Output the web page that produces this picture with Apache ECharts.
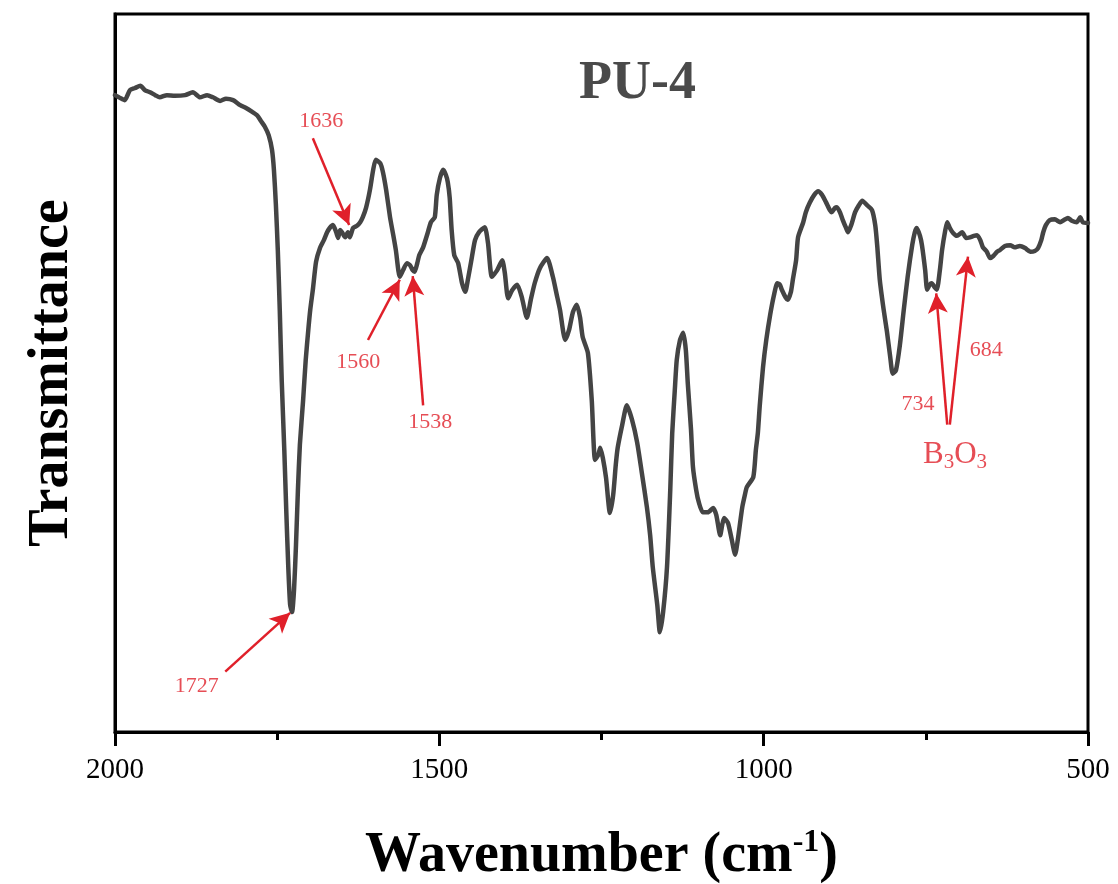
<!DOCTYPE html>
<html>
<head>
<meta charset="utf-8">
<script src="https://cdn.jsdelivr.net/npm/echarts@6/dist/echarts.min.js"></script>
<style>
html,body{margin:0;padding:0;background:#fff;}
#chart{width:1118px;height:884px;}
</style>
</head>
<body>
<div id="chart"></div>
<script>
// ---- data (wavenumber in cm-1, transmittance in arbitrary %) ----
const wavenumber = [
2000,1992,1985,1977,1969,1961,1954,1946,1938,1931,1920,1908,1892,1880,1869,1858,1849,1838,1829,1818,
1807,1798,1789,1781,1775,1769,1763,1758,1755,1752,1749,1746,1743,1739,1736,1733,1730,1727,1724,1721,
1718,1715,1710,1706,1702,1699,1695,1690,1684,1678,1673,1669,1664,1659,1656,1653,1650,1645,1641,1638,
1633,1627,1622,1618,1613,1607,1602,1598,1591,1587,1582,1576,1571,1567,1561,1556,1550,1545,1541,1538,
1534,1531,1525,1518,1513,1507,1504,1499,1494,1490,1487,1484,1481,1477,1471,1465,1460,1456,1451,1445,
1439,1430,1425,1419,1411,1403,1399,1394,1388,1380,1373,1365,1359,1353,1345,1334,1325,1319,1314,1306,
1300,1294,1288,1283,1279,1271,1265,1260,1255,1252,1248,1243,1237,1232,1228,1225,1218,1211,1203,1195,
1188,1180,1175,1171,1164,1160,1155,1149,1144,1141,1137,1134,1129,1124,1120,1117,1112,1109,1104,1100,
1094,1086,1078,1073,1067,1064,1061,1055,1049,1044,1040,1033,1029,1026,1016,1012,1009,1006,1001,996,
990,984,979,975,972,966,963,958,955,950,947,939,935,929,922,916,910,904,898,895,
890,887,882,878,873,870,865,859,853,848,841,833,828,825,821,815,810,805,801,796,
790,784,778,771,767,764,759,756,751,748,744,741,736,733,728,725,720,717,713,708,
702,694,688,682,676,671,666,662,656,651,646,640,636,628,620,613,605,597,589,582,
577,572,569,565,559,551,543,537,531,525,517,512,508,500
];
const transmittance = [
88.7,88.3,88.0,89.4,89.7,90.0,89.4,89.1,88.7,88.4,88.7,88.6,88.7,89.1,88.4,88.7,88.4,87.9,88.2,88.0,
87.3,86.9,86.4,85.9,85.1,84.3,83.1,81.1,78.3,73.5,67.1,58.8,49.0,39.3,30.9,23.3,17.7,16.7,19.8,26.0,
33.7,40.0,46.2,51.8,56.0,58.8,61.6,65.5,67.4,68.5,69.6,70.2,70.6,69.6,68.8,69.9,69.6,68.9,69.6,68.9,
70.2,70.5,71.0,71.7,73.0,75.5,78.3,79.7,79.2,78.0,75.5,71.7,69.2,67.1,63.4,64.3,65.3,65.0,64.3,64.1,
65.3,66.4,67.5,69.5,71.0,71.7,74.8,77.2,78.3,77.6,76.6,74.4,69.9,66.4,65.3,62.5,61.3,63.0,65.5,68.5,
69.6,70.3,68.1,63.4,64.3,65.7,63.9,60.4,61.5,62.3,60.6,57.7,60.2,62.5,64.6,66.0,63.4,60.9,58.8,54.6,
56.0,58.5,59.5,57.7,55.0,52.8,46.2,37.9,38.6,39.6,38.2,35.4,30.5,33.0,37.2,39.6,42.8,45.5,43.5,40.3,
36.2,31.3,27.4,23.0,17.7,13.9,16.7,23.0,33.7,41.6,47.6,51.8,54.6,55.6,53.2,48.6,42.1,36.9,33.7,32.0,
30.6,30.6,31.2,30.2,27.4,28.8,29.8,29.1,26.7,24.7,26.7,31.3,33.0,34.1,35.5,39.3,41.6,45.5,50.8,54.6,
58.1,60.9,62.5,62.3,61.6,60.5,60.2,61.3,63.0,65.7,68.9,71.0,72.4,73.7,74.8,75.3,74.8,73.8,72.7,72.4,
73.0,73.1,72.3,71.3,70.2,69.6,70.6,72.4,73.4,74.0,73.4,72.7,70.6,67.8,63.0,58.8,55.8,52.3,49.9,50.4,
53.9,58.8,63.4,67.8,69.6,70.2,69.1,67.8,64.3,61.6,62.3,62.5,61.9,61.6,64.6,67.1,69.9,71.0,70.2,69.5,
69.1,69.6,68.8,68.9,69.1,69.2,68.5,67.5,66.9,66.0,66.3,66.9,67.1,67.7,67.8,67.5,67.7,67.4,66.9,67.0,
67.4,68.5,69.6,70.6,71.3,71.4,71.0,71.3,71.6,71.2,71.0,71.7,71.0,70.9
];
const xTicks = [2000, 1500, 1000, 500];

// peak annotations (label, arrow tip, arrow tail, label anchor — data coordinates)
const annLabels = ['1727', '1636', '1560', '1538', '734', '684'];
const annTipW   = [1730, 1639, 1561, 1541, 734, 685];
const annTipT   = [16.6, 70.6, 63.0, 63.5, 61.1, 66.2];
const annTailW  = [1830, 1695, 1610, 1525, 717, 713];
const annTailT  = [8.4, 82.7, 54.6, 45.5, 42.8, 42.8];
const annTextW  = [1874, 1682, 1625, 1514, 762, 657];
const annTextT  = [6.4, 85.1, 51.5, 43.2, 45.7, 53.2];
const groupLabelW = 705, groupLabelT = 38.6;

const RED = '#e0202a';
const SERIF = '"Liberation Serif", "Times New Roman", serif';

const lineData = wavenumber.map((w, i) => [w, transmittance[i]]);
const arrowLines = annLabels.map((_, i) => [
  { coord: [annTailW[i], annTailT[i]], symbol: 'none' },
  { coord: [annTipW[i], annTipT[i]], symbol: 'arrow', symbolSize: [15, 20] }
]);
const labelPoints = annLabels.map((t, i) => ({ value: [annTextW[i], annTextT[i]], name: t }));

const chart = echarts.init(document.getElementById('chart'), null, { renderer: 'canvas' });
chart.setOption({
  backgroundColor: '#ffffff',
  animation: false,
  title: {
    text: 'PU-4',
    left: 574,
    top: 52,
    textStyle: { fontFamily: SERIF, fontWeight: 'bold', fontSize: 54, color: '#4a4a4a' }
  },
  grid: {
    left: 115, right: 30, top: 14, bottom: 152,
    containLabel: false,
    outerBoundsMode: 'none',
    show: true, borderColor: '#000', borderWidth: 3, backgroundColor: 'transparent'
  },
  xAxis: {
    type: 'value',
    inverse: true,
    min: 500, max: 2000, interval: 500,
    axisLine: { show: true, onZero: false, lineStyle: { color: '#000', width: 3 } },
    axisTick: { show: true, inside: false, length: 14, lineStyle: { color: '#000', width: 3 } },
    minorTick: { show: true, splitNumber: 2, length: 8, lineStyle: { color: '#000', width: 3 } },
    splitLine: { show: false },
    axisLabel: {
      margin: 24, fontFamily: SERIF, fontSize: 29, color: '#000',
      formatter: v => (xTicks.indexOf(v) >= 0 ? String(v) : '')
    },
    name: '{a|Wavenumber (cm}{s|-1}{a|)}',
    nameLocation: 'middle',
    nameGap: 93,
    nameTextStyle: {
      rich: {
        a: { fontFamily: SERIF, fontWeight: 'bold', fontSize: 56, color: '#000', lineHeight: 64, verticalAlign: 'middle' },
        s: { fontFamily: SERIF, fontWeight: 'bold', fontSize: 32, color: '#000', lineHeight: 64, verticalAlign: 'top', padding: [2, 0, 0, 0] }
      }
    }
  },
  yAxis: {
    type: 'value',
    min: 0, max: 100,
    axisLine: { show: true, lineStyle: { color: '#000', width: 3 } },
    axisTick: { show: false },
    axisLabel: { show: false },
    splitLine: { show: false },
    name: 'Transmittance',
    nameLocation: 'middle',
    nameGap: 34,
    nameRotate: 90,
    nameTextStyle: { fontFamily: SERIF, fontWeight: 'bold', fontSize: 56, color: '#000' }
  },
  series: [
    {
      type: 'line',
      data: lineData,
      showSymbol: false,
      symbol: 'none',
      smooth: 0.2,
      lineStyle: { color: '#444444', width: 4.5, join: 'round', cap: 'round' },
      markLine: {
        silent: true,
        symbol: ['none', 'arrow'],
        symbolSize: 18,
        label: { show: false },
        lineStyle: { color: RED, width: 2.5, type: 'solid', opacity: 1 },
        itemStyle: { color: RED },
        emphasis: { disabled: true },
        animation: false,
        data: arrowLines
      },
      z: 3
    },
    {
      type: 'scatter',
      data: labelPoints,
      symbolSize: 0,
      silent: true,
      label: {
        show: true,
        position: 'inside',
        formatter: p => p.name,
        fontFamily: SERIF, fontSize: 22, color: RED
      },
      z: 4
    },
    {
      type: 'scatter',
      data: [[groupLabelW, groupLabelT]],
      symbolSize: 0,
      silent: true,
      label: {
        show: true,
        position: 'inside',
        formatter: '{n|B}{s|3}{n|O}{s|3}',
        rich: {
          n: { fontFamily: SERIF, fontSize: 31, color: RED, lineHeight: 36, verticalAlign: 'middle' },
          s: { fontFamily: SERIF, fontSize: 21, color: RED, lineHeight: 36, verticalAlign: 'bottom' }
        }
      },
      z: 4
    }
  ]
});
</script>
</body>
</html>
